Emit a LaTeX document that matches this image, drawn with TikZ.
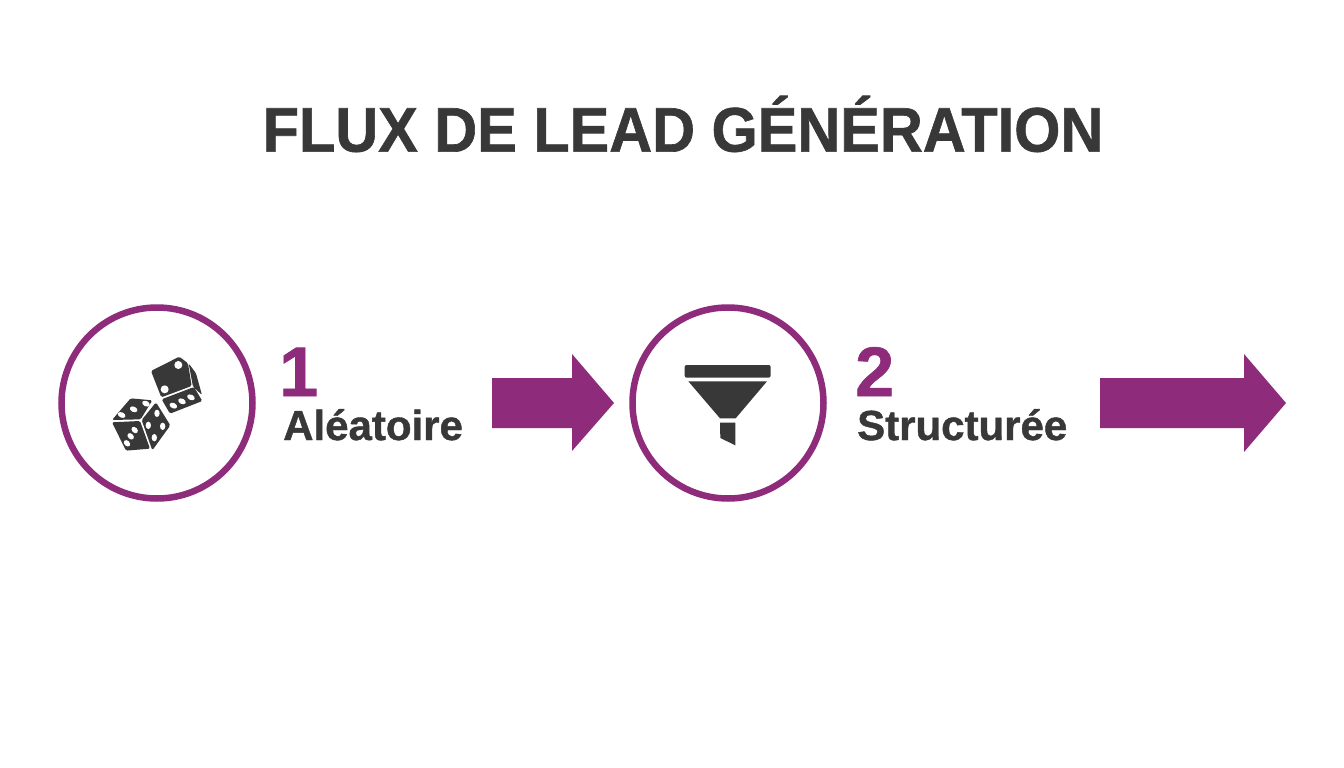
\documentclass[tikz,border=0pt]{standalone}
\usepackage{graphicx}
\usepackage{fontspec}
\setmainfont{Liberation Sans}
\newfontfamily\heavyface[BoldFont={Liberation Sans Bold},BoldFeatures={FakeBold=1}]{Liberation Sans}
\definecolor{plum}{HTML}{8E2C7B}
\definecolor{ink}{HTML}{383838}
\tikzset{
  ring/.style={circle,draw=plum,line width=6.5pt,minimum size=191pt,inner sep=0pt},
  num/.style={text=plum,font=\heavyface\bfseries\fontsize{70pt}{70pt}\selectfont,anchor=base west,inner sep=0pt},
  lab/.style={text=ink,font=\heavyface\bfseries\fontsize{42pt}{42pt}\selectfont,anchor=base west,inner sep=0pt},
  titl/.style={text=ink,font=\heavyface\bfseries\fontsize{63pt}{63pt}\selectfont,inner sep=0pt},
  blockarrow/.style={fill=plum,draw=none},
  face/.style={fill=ink,draw=none,rounded corners=1.5pt},
  pip/.style={fill=white,draw=none},
}
\begin{document}
\begin{tikzpicture}[x=1pt,y=-1pt]
\useasboundingbox[fill=white] (0,0) rectangle (1344,768);
\node[titl] (title) at (683,124) {\scalebox{0.943}[1]{FLUX DE LEAD GÉNÉRATION}};
\node[ring] (c1) at (157,403) {};
\node[ring] (c2) at (728,403) {};
\node[num] (n1) at (279,396) {1};
\node[lab] (l1) at (283,440) {Aléatoire};
\node[num] (n2) at (855,396) {2};
\node[lab] (l2) at (857,440) {Structurée};
\fill[blockarrow] (492,378) -- (572,378) -- (572,354) -- (614,403) -- (572,451) -- (572,428) -- (492,428) -- cycle;
\fill[blockarrow] (1100,378) -- (1244,378) -- (1244,354) -- (1286,403) -- (1244,452) -- (1244,428) -- (1100,428) -- cycle;
% dice, traced in zoom coordinates
\begin{scope}[shift={(90,340)},x=0.3333pt,y=-0.3333pt]
  \fill[face] (183,93) -- (268,50) -- (294,70) -- (305,138) -- (214,172) -- cycle;
  \fill[face] (296,70) -- (318,100) -- (336,165) -- (309,140) -- cycle;
  \fill[face] (215,178) -- (312,141) -- (337,183) -- (240,221) -- cycle;
  \fill[face] (66,240) -- (122,175) -- (187,181) -- (152,238) -- cycle;
  \fill[face] (66,247) -- (150,243) -- (180,326) -- (108,332) -- cycle;
  \fill[face] (155,240) -- (198,187) -- (241,256) -- (187,331) -- cycle;
  \foreach \x/\y/\r in {265/75/12,224/148/12}
    \fill[pip] (\x,\y) circle[radius=\r];
  \foreach \x/\y in {250/197,276/184,303/172,95/225,131/208,168/191}
    \fill[pip,shift={(\x,\y)},rotate=-25] (0,0) ellipse[x radius=12,y radius=8];
  \foreach \x/\y in {134/270,122/289,111/310}
    \fill[pip,shift={(\x,\y)},rotate=-45] (0,0) ellipse[x radius=11,y radius=8];
  \foreach \x/\y in {201/220,175/256,218/259,193/293}
    \fill[pip] (\x,\y) ellipse[x radius=8,y radius=11];
\end{scope}
% funnel, traced in zoom coordinates
\begin{scope}[shift={(670,350)},x=0.3333pt,y=-0.3333pt]
  \fill[ink,rounded corners=2pt] (44,45) rectangle (302,83);
  \fill[ink] (55,94) -- (291,94) -- (197,205) -- (150,205) -- cycle;
  \fill[ink] (150,218) -- (196,218) -- (196,286) -- (151,264) -- cycle;
\end{scope}
\end{tikzpicture}
\end{document}
